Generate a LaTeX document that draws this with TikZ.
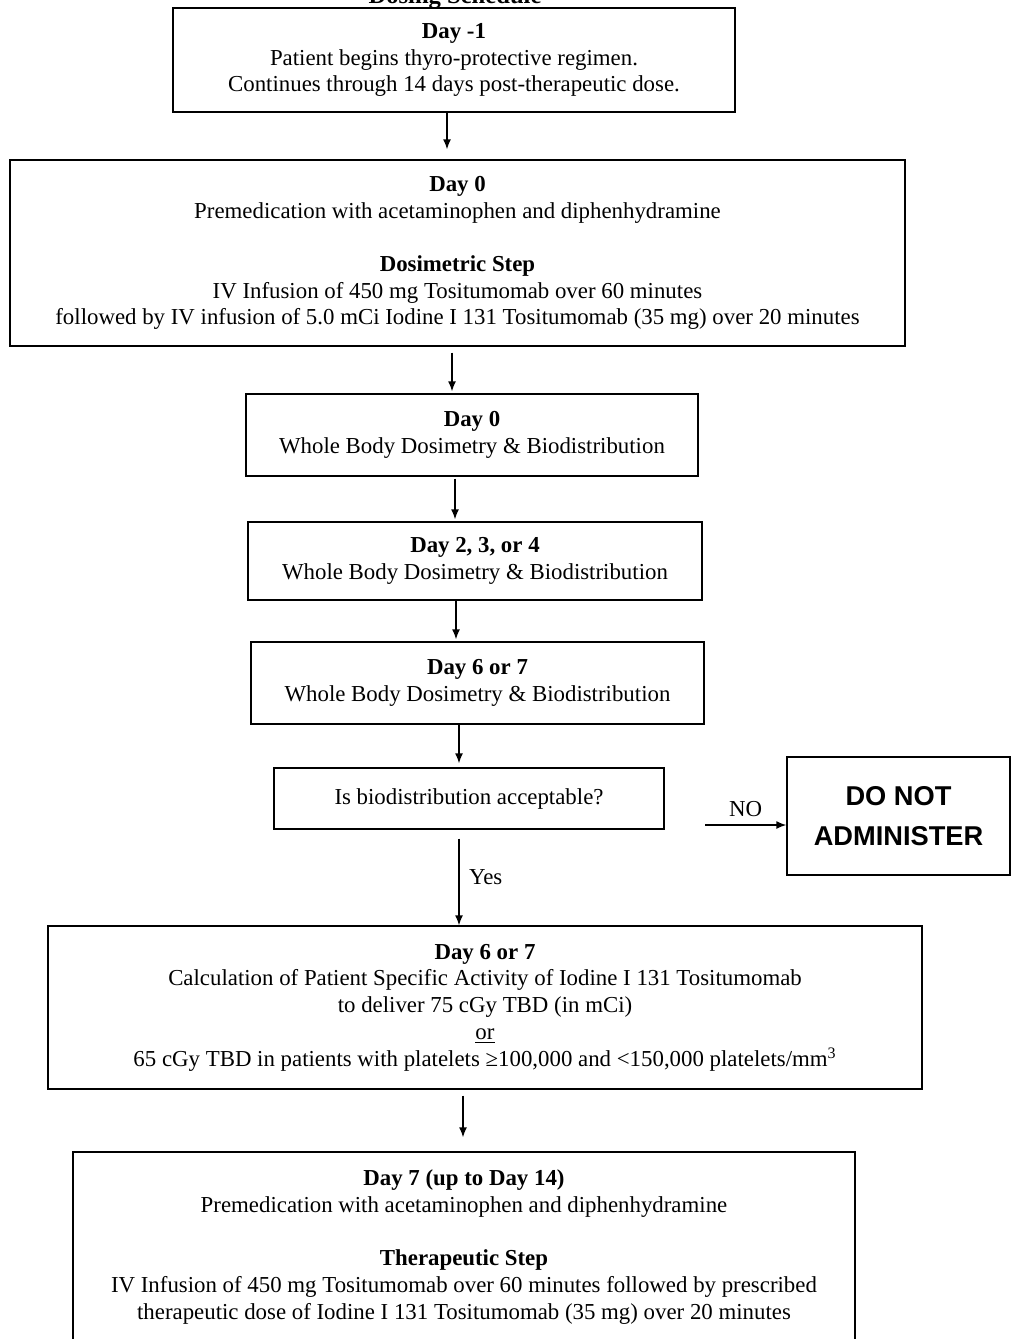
\documentclass[tikz,border=0pt]{standalone}
\usepackage{fontspec}
\setmainfont{Liberation Serif}
\newfontfamily\armsans{Liberation Sans}
\usepackage{tikz}
\usetikzlibrary{arrows.meta}

\begin{document}
\begin{tikzpicture}[font=\fontsize{13}{15.2}\selectfont,
  box/.style={draw, line width=0.8pt, align=center, inner sep=0pt},
  arr/.style={line width=0.8pt, -{Latex[length=2mm,width=1.6mm]}}]
\useasboundingbox (0,0) rectangle (20.22,-26.78);
\node[font=\fontsize{14}{15}\selectfont\bfseries, anchor=base] (title) at (9.1,-0.06) {Dosing Schedule};
\node[box, minimum width=11.24cm, minimum height=2.08cm] (dm1) at (9.08,-1.20)
  {\textbf{Day -1}\\ Patient begins thyro-protective regimen.\\ Continues through 14 days post-therapeutic dose.};
\node[box, minimum width=17.9cm, minimum height=3.72cm] (d0) at (9.15,-5.06)
  {\textbf{Day 0}\\ Premedication with acetaminophen and diphenhydramine\\[15pt]
   \textbf{Dosimetric Step}\\ IV Infusion of 450 mg Tositumomab over 60 minutes\\
   followed by IV infusion of 5.0 mCi Iodine I 131 Tositumomab (35 mg) over 20 minutes};
\node[box, minimum width=9.04cm, minimum height=1.64cm] (wb0) at (9.44,-8.70)
  {\textbf{Day 0}\\ Whole Body Dosimetry \& Biodistribution};
\node[box, minimum width=9.08cm, minimum height=1.56cm] (wb2) at (9.50,-11.22)
  {\textbf{Day 2, 3, or 4}\\ Whole Body Dosimetry \& Biodistribution};
\node[box, minimum width=9.06cm, minimum height=1.64cm] (wb6) at (9.55,-13.66)
  {\textbf{Day 6 or 7}\\ Whole Body Dosimetry \& Biodistribution};
\node[box, minimum width=7.8cm, minimum height=1.22cm] (ask) at (9.38,-15.97)
  {Is biodistribution acceptable?};
\node[box, minimum width=4.46cm, minimum height=2.36cm, font=\armsans\bfseries\fontsize{15.5}{22.5}\selectfont] (stop) at (17.97,-16.32)
  {DO NOT\\ ADMINISTER};
\node[box, minimum width=17.48cm, minimum height=3.26cm] (calc) at (9.70,-20.15)
  {\textbf{Day 6 or 7}\\ Calculation of Patient Specific Activity of Iodine I 131 Tositumomab\\
   to deliver 75 cGy TBD (in mCi)\\ \underline{or}\\
   65 cGy TBD in patients with platelets ≥100,000 and <150,000 platelets/mm\textsuperscript{3}};
\node[box, minimum width=15.64cm, minimum height=3.8cm] (ther) at (9.28,-24.94)
  {\textbf{Day 7 (up to Day 14)}\\ Premedication with acetaminophen and diphenhydramine\\[15pt]
   \textbf{Therapeutic Step}\\ IV Infusion of 450 mg Tositumomab over 60 minutes followed by prescribed\\
   therapeutic dose of Iodine I 131 Tositumomab (35 mg) over 20 minutes};
\coordinate (nostart) at (14.10,-16.50);
\draw[arr, shorten >=0.2cm] (8.94,0 |- dm1.south) -- (8.94,0 |- d0.north);
\draw[arr, shorten <=0.12cm, shorten >=0.04cm] (9.04,0 |- d0.south) -- (9.04,0 |- wb0.north);
\draw[arr, shorten <=0.04cm, shorten >=0.04cm] (9.10,0 |- wb0.south) -- (9.10,0 |- wb2.north);
\draw[arr, shorten >=0.04cm] (9.12,0 |- wb2.south) -- (9.12,0 |- wb6.north);
\draw[arr, shorten >=0.08cm] (9.18,0 |- wb6.south) -- (9.18,0 |- ask.north);
\draw[arr] (nostart) -- node[above=1pt] {NO} (stop.west |- nostart);
\draw[arr, shorten <=0.18cm] (9.18,0 |- ask.south) -- node[right=2pt] {Yes} (9.18,0 |- calc.north);
\draw[arr, shorten <=0.12cm, shorten >=0.28cm] (9.26,0 |- calc.south) -- (9.26,0 |- ther.north);
\end{tikzpicture}
\end{document}
